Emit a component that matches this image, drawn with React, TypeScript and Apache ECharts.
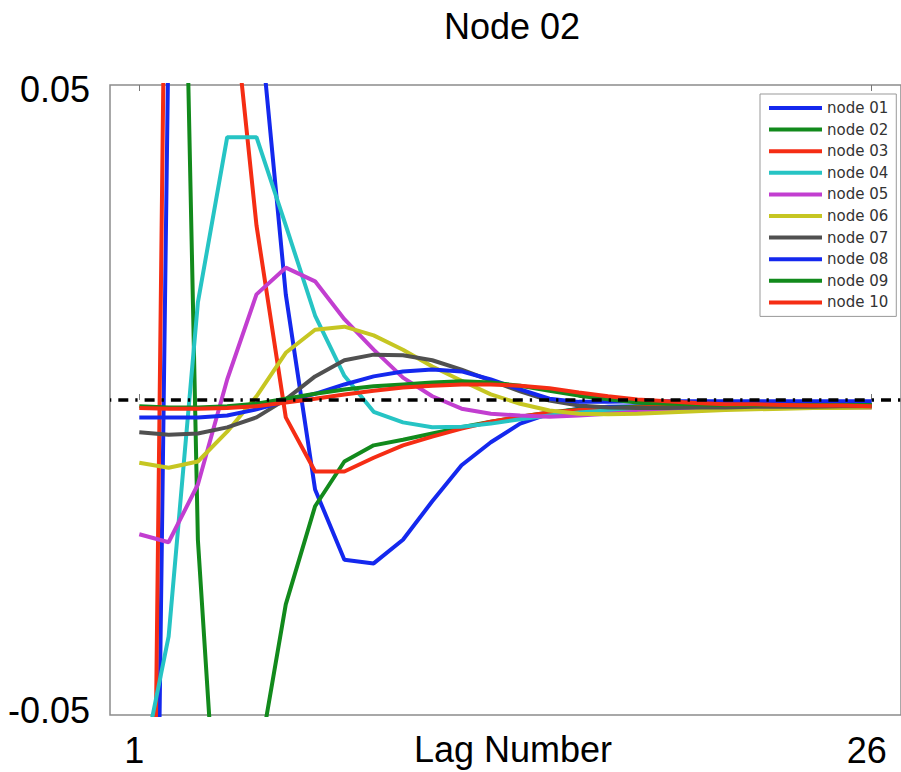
import React, { useEffect, useRef } from "react";
import * as echarts from "echarts";

const lags = [1, 2, 3, 4, 5, 6, 7, 8, 9, 10, 11, 12, 13, 14, 15, 16, 17, 18, 19, 20, 21, 22, 23, 24, 25, 26];

const seriesNames = ["node 01", "node 02", "node 03", "node 04", "node 05", "node 06", "node 07", "node 08", "node 09", "node 10"];
const seriesColors = ["#1428ee", "#128a1c", "#f52d14", "#26c4c4", "#c23ed0", "#c6c622", "#505050", "#1428ee", "#128a1c", "#f52d14"];

const node01 = [-0.30, 0.06, 0.14, 0.12, 0.0667, 0.0170, -0.0144, -0.0257, -0.0263, -0.0225, -0.0163, -0.0105, -0.0068, -0.0038, -0.0022, -0.0014, -0.0011, -0.0010, -0.0009, -0.0009, -0.0009, -0.0008, -0.0008, -0.0008, -0.0008, -0.0008];
const node02 = [0.32, 0.2026, -0.0225, -0.096, -0.0603, -0.0329, -0.0171, -0.0099, -0.0073, -0.0064, -0.0054, -0.0044, -0.0035, -0.0027, -0.0020, -0.0015, -0.0013, -0.0011, -0.0010, -0.0010, -0.0009, -0.0009, -0.0009, -0.0008, -0.0008, -0.0008];
const node03 = [-0.284, 0.125, 0.11, 0.0736, 0.0281, -0.0028, -0.0115, -0.0115, -0.0093, -0.0073, -0.0059, -0.0046, -0.0035, -0.0027, -0.0020, -0.0016, -0.0014, -0.0012, -0.0011, -0.0011, -0.0010, -0.0010, -0.0010, -0.0010, -0.0010, -0.0010];
const node04 = [-0.0614, -0.0381, 0.0157, 0.0423, 0.0423, 0.0281, 0.0136, 0.0039, -0.0019, -0.0036, -0.0044, -0.0043, -0.0038, -0.0031, -0.0025, -0.0020, -0.0017, -0.0015, -0.0014, -0.0013, -0.0013, -0.0012, -0.0012, -0.0012, -0.0011, -0.0011];
const node05 = [-0.0216, -0.0229, -0.0136, 0.0033, 0.0170, 0.0213, 0.0191, 0.0130, 0.0081, 0.0036, 0.0006, -0.0014, -0.0022, -0.0025, -0.0027, -0.0025, -0.0022, -0.0019, -0.0017, -0.0015, -0.0014, -0.0013, -0.0013, -0.0012, -0.0012, -0.0012];
const node06 = [-0.0101, -0.0109, -0.0099, -0.0051, 0.0006, 0.0076, 0.0113, 0.0118, 0.0104, 0.0081, 0.0054, 0.0031, 0.0009, -0.0006, -0.0017, -0.0022, -0.0023, -0.0022, -0.0020, -0.0018, -0.0016, -0.0015, -0.0014, -0.0013, -0.0013, -0.0012];
const node07 = [-0.0052, -0.0056, -0.0054, -0.0044, -0.0028, 0.0001, 0.0038, 0.0064, 0.0073, 0.0072, 0.0064, 0.0049, 0.0031, 0.0014, -0.0001, -0.0009, -0.0012, -0.0013, -0.0013, -0.0012, -0.0012, -0.0011, -0.0011, -0.0011, -0.0010, -0.0010];
const node08 = [-0.0028, -0.0028, -0.0028, -0.0025, -0.0015, -0.0002, 0.0010, 0.0025, 0.0038, 0.0046, 0.0049, 0.0046, 0.0033, 0.0017, 0.0002, -0.0003, -0.0003, -0.0002, -0.0002, -0.0002, -0.0002, -0.0002, -0.0002, -0.0002, -0.0002, -0.0002];
const node09 = [-0.0010, -0.0012, -0.0012, -0.0010, -0.0006, 0.0002, 0.0010, 0.0017, 0.0022, 0.0025, 0.0028, 0.0030, 0.0028, 0.0023, 0.0015, 0.0007, 0.0001, -0.0004, -0.0006, -0.0007, -0.0008, -0.0008, -0.0008, -0.0008, -0.0008, -0.0008];
const node10 = [-0.0013, -0.0014, -0.0014, -0.0013, -0.0010, -0.0004, 0.0002, 0.0009, 0.0015, 0.0020, 0.0023, 0.0025, 0.0025, 0.0023, 0.0019, 0.0012, 0.0006, 0.0001, -0.0002, -0.0005, -0.0007, -0.0007, -0.0008, -0.0009, -0.0009, -0.0010];

const allSeries = [node01, node02, node03, node04, node05, node06, node07, node08, node09, node10];

const xTickLabels = [1, 26];
const yTickLabels = [-0.05, 0.05];
const xRange = [0, 27];
const yRange = [-0.0507, 0.0507];
const zeroLine = [[0, 0], [27, 0]];

const titleText = "Node 02";
const xAxisTitle = "Lag Number";

export default function App() {
  const ref = useRef<HTMLDivElement>(null);
  useEffect(() => {
    if (!ref.current) return;
    const chart = echarts.init(ref.current, null, { renderer: "svg" });
    const font = "Liberation Sans, Arial, Helvetica, sans-serif";
    const option: any = {
      animation: false,
      backgroundColor: "#ffffff",
      title: {
        text: titleText,
        left: 512,
        top: 8,
        padding: 0,
        textAlign: "center",
        textStyle: { fontSize: 36, fontWeight: "normal", color: "#000", fontFamily: font, lineHeight: 36 },
      },
      grid: {
        left: 110,
        top: 85,
        width: 797.6,
        height: 630,
        show: true,
        borderColor: "#8c8c8c",
        borderWidth: 1.5,
        backgroundColor: "transparent",
      },
      legend: {
        data: seriesNames,
        orient: "vertical",
        left: 760,
        top: 94,
        padding: [6, 8, 6, 9],
        itemWidth: 53,
        itemHeight: 4,
        itemGap: 5.6,
        icon: "rect",
        backgroundColor: "#ffffff",
        borderColor: "#999",
        borderWidth: 1,
        textStyle: { fontSize: 15, lineHeight: 16, color: "#333", fontFamily: "DejaVu Sans, sans-serif" },
      },
      xAxis: [
        {
          type: "value",
          min: xRange[0],
          max: xRange[1],
          position: "bottom",
          axisLine: { show: false },
          splitLine: { show: false },
          axisTick: { show: true, inside: true, length: 6, customValues: xTickLabels, lineStyle: { color: "#777", width: 1 } },
          axisLabel: {
            customValues: xTickLabels,
            fontSize: 36,
            lineHeight: 36,
            color: "#000",
            fontFamily: font,
            margin: 17,
            padding: [0, 10, 0, 0],
          },
        },
        {
          type: "value",
          min: xRange[0],
          max: xRange[1],
          position: "top",
          axisLine: { show: false },
          splitLine: { show: false },
          axisTick: { show: true, inside: true, length: 6, customValues: xTickLabels, lineStyle: { color: "#777", width: 1 } },
          axisLabel: { show: false },
        },
      ],
      yAxis: {
        type: "value",
        min: yRange[0],
        max: yRange[1],
        axisLine: { show: false },
        splitLine: { show: false },
        axisTick: { show: false },
        axisLabel: {
          customValues: yTickLabels,
          formatter: (v: number) => v.toFixed(2),
          fontSize: 36,
          color: "#000",
          fontFamily: font,
          margin: 20,
        },
      },
      graphic: [
        {
          type: "text",
          x: 513,
          y: 749,
          style: {
            text: xAxisTitle,
            fontSize: 36,
            fontFamily: font,
            fill: "#000",
            textAlign: "center",
            textVerticalAlign: "middle",
          },
        },
      ],
      series: [
        ...allSeries.map((vals, i) => ({
          name: seriesNames[i],
          type: "line",
          data: lags.map((l, j) => [l, vals[j]]),
          showSymbol: false,
          symbol: "none",
          clip: true,
          color: seriesColors[i],
          lineStyle: { width: 4, color: seriesColors[i] },
          emphasis: { disabled: true },
        })),
        {
          name: "zero",
          type: "line",
          data: zeroLine,
          showSymbol: false,
          symbol: "none",
          clip: true,
          lineStyle: { width: 3.5, color: "#000", type: [10, 7, 2.3, 7], dashOffset: 18 },
          emphasis: { disabled: true },
          z: 5,
        },
      ],
    };
    chart.setOption(option);
    return () => chart.dispose();
  }, []);
  return <div ref={ref} style={{ position: "fixed", left: 0, top: 0, width: 901, height: 772 }} />;
}
